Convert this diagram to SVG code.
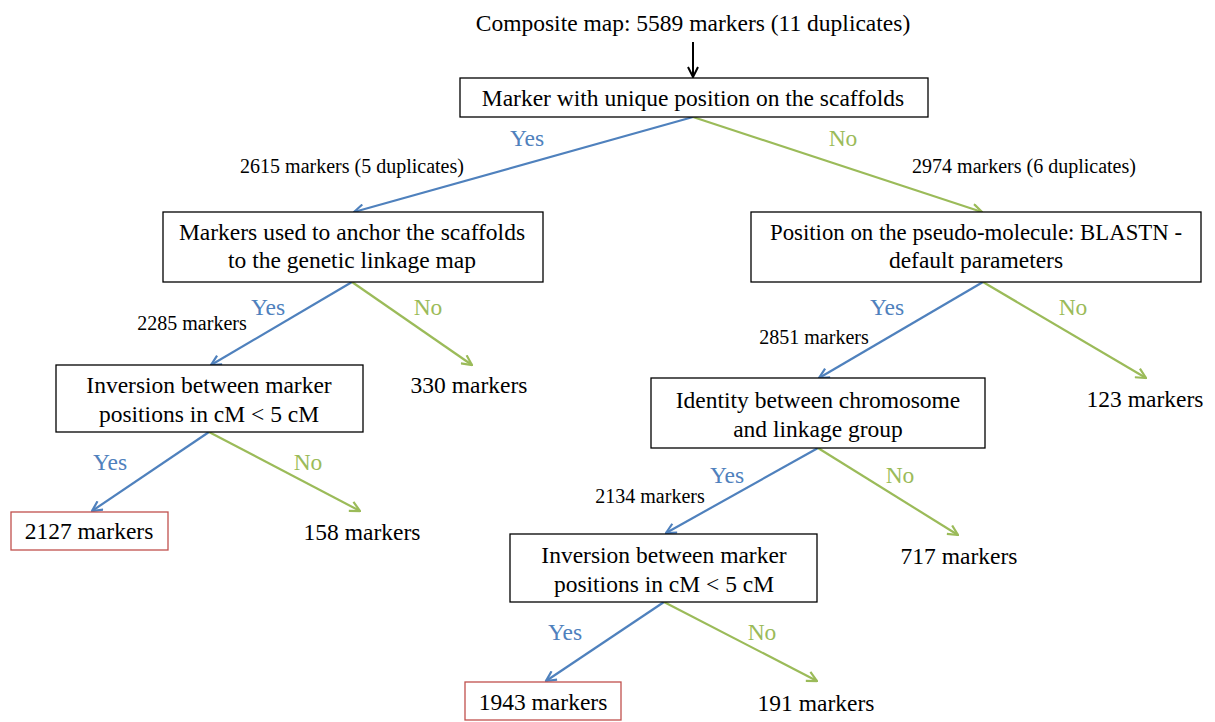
<svg xmlns="http://www.w3.org/2000/svg" width="1215" height="722" viewBox="0 0 1215 722">
  <style>
    text { font-family: "Liberation Serif", "Times New Roman", serif; fill: #000; text-anchor: middle; }
    .t { font-size: 23.5px; }
    .s { font-size: 20px; }
    .yes { font-size: 23.5px; fill: #4f81bd; }
    .no { font-size: 23.5px; fill: #9bbb59; }
    .box { fill: #fff; stroke: #000; stroke-width: 1.3; }
    .final { fill: #fff; stroke: #c0504d; stroke-width: 1.3; }
    .ly { stroke: #4f81bd; stroke-width: 2.2; fill: none; marker-end: url(#ah-blue); }
    .ln { stroke: #9bbb59; stroke-width: 2.2; fill: none; marker-end: url(#ah-green); }
    .lk { stroke: #000; stroke-width: 2; fill: none; marker-end: url(#ah-black); }
  </style>
  <defs>
    <marker id="ah-blue" viewBox="0 0 12 12" refX="11" refY="6" markerWidth="12" markerHeight="12" markerUnits="userSpaceOnUse" orient="auto">
      <path d="M1,1 L11,6 L1,11" fill="none" stroke="#4f81bd" stroke-width="2.2"/>
    </marker>
    <marker id="ah-green" viewBox="0 0 12 12" refX="11" refY="6" markerWidth="12" markerHeight="12" markerUnits="userSpaceOnUse" orient="auto">
      <path d="M1,1 L11,6 L1,11" fill="none" stroke="#9bbb59" stroke-width="2.2"/>
    </marker>
    <marker id="ah-black" viewBox="0 0 12 12" refX="11" refY="6" markerWidth="12" markerHeight="12" markerUnits="userSpaceOnUse" orient="auto">
      <path d="M1,1 L11,6 L1,11" fill="none" stroke="#000" stroke-width="2"/>
    </marker>
  </defs>

  <!-- connectors and their labels -->
  <g id="connectors">
    <line class="lk" x1="693" y1="42" x2="693" y2="77"/>
    <line class="ly" x1="693" y1="117" x2="354" y2="212"/>
    <line class="ln" x1="693" y1="117" x2="982" y2="212"/>
    <line class="ly" x1="352" y1="282" x2="211" y2="365"/>
    <line class="ln" x1="352" y1="282" x2="472" y2="365"/>
    <line class="ly" x1="209" y1="432" x2="92" y2="511"/>
    <line class="ln" x1="209" y1="432" x2="360" y2="511"/>
    <line class="ly" x1="983" y1="282" x2="819" y2="378"/>
    <line class="ln" x1="983" y1="282" x2="1146" y2="378"/>
    <line class="ly" x1="818" y1="448" x2="666" y2="533"/>
    <line class="ln" x1="818" y1="448" x2="958" y2="535"/>
    <line class="ly" x1="664" y1="602" x2="546" y2="681"/>
    <line class="ln" x1="664" y1="602" x2="817" y2="681"/>

    <text class="yes" x="527" y="146">Yes</text>
    <text class="no" x="843" y="146">No</text>
    <text class="s" x="352" y="173">2615 markers (5 duplicates)</text>
    <text class="s" x="1024" y="173">2974 markers (6 duplicates)</text>

    <text class="yes" x="268" y="315">Yes</text>
    <text class="no" x="428" y="315">No</text>
    <text class="s" x="192" y="330">2285 markers</text>

    <text class="yes" x="110" y="470">Yes</text>
    <text class="no" x="308" y="470">No</text>

    <text class="yes" x="887" y="315">Yes</text>
    <text class="no" x="1073" y="315">No</text>
    <text class="s" x="814" y="344">2851 markers</text>

    <text class="yes" x="727" y="483">Yes</text>
    <text class="no" x="900" y="483">No</text>
    <text class="s" x="650" y="503">2134 markers</text>

    <text class="yes" x="565" y="640">Yes</text>
    <text class="no" x="762" y="640">No</text>
  </g>

  <!-- nodes -->
  <g id="n-source">
    <text class="t" x="693" y="31">Composite map: 5589 markers (11 duplicates)</text>
  </g>
  <g id="n-unique">
    <rect class="box" x="460" y="78" width="468" height="39"/>
    <text class="t" x="693" y="106">Marker with unique position on the scaffolds</text>
  </g>
  <g id="n-anchor">
    <rect class="box" x="163" y="212" width="380" height="70"/>
    <text class="t" x="352" y="240">Markers used to anchor the scaffolds</text>
    <text class="t" x="352" y="268">to the genetic linkage map</text>
  </g>
  <g id="n-blastn">
    <rect class="box" x="751" y="212" width="450" height="70"/>
    <text class="t" x="976" y="240" textLength="412" lengthAdjust="spacingAndGlyphs">Position on the pseudo-molecule: BLASTN -</text>
    <text class="t" x="976" y="268">default parameters</text>
  </g>
  <g id="n-inv-left">
    <rect class="box" x="56" y="365" width="307" height="67"/>
    <text class="t" x="209" y="393">Inversion between marker</text>
    <text class="t" x="209" y="422">positions in cM &lt; 5 cM</text>
  </g>
  <g id="n-330">
    <text class="t" x="469" y="393">330 markers</text>
  </g>
  <g id="n-2127">
    <rect class="final" x="11" y="512" width="157" height="38"/>
    <text class="t" x="89" y="539">2127 markers</text>
  </g>
  <g id="n-158">
    <text class="t" x="362" y="540">158 markers</text>
  </g>
  <g id="n-identity">
    <rect class="box" x="651" y="378" width="334" height="70"/>
    <text class="t" x="818" y="408">Identity between chromosome</text>
    <text class="t" x="818" y="437">and linkage group</text>
  </g>
  <g id="n-123">
    <text class="t" x="1145" y="407">123 markers</text>
  </g>
  <g id="n-717">
    <text class="t" x="959" y="564">717 markers</text>
  </g>
  <g id="n-inv-right">
    <rect class="box" x="510" y="534" width="307" height="68"/>
    <text class="t" x="664" y="563">Inversion between marker</text>
    <text class="t" x="664" y="592">positions in cM &lt; 5 cM</text>
  </g>
  <g id="n-1943">
    <rect class="final" x="465" y="682" width="156" height="38"/>
    <text class="t" x="543" y="710">1943 markers</text>
  </g>
  <g id="n-191">
    <text class="t" x="816" y="711">191 markers</text>
  </g>
</svg>
